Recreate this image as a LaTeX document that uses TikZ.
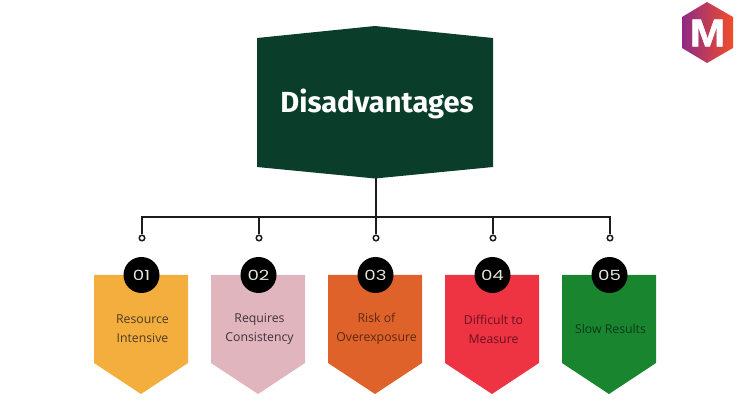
\documentclass[tikz,border=0pt]{standalone}
\usepackage{fontspec}
\setmainfont{Open Sans}
\newfontfamily\titlefont{Fira Sans}
\newfontfamily\numfont[FakeStretch=1.3]{Poppins}
\newfontfamily\logofont[BoldFont={Liberation Sans Bold},BoldFeatures={FakeStretch=1.1,FakeBold=1.5}]{Liberation Sans}
\definecolor{maingreen}{HTML}{0A3D2A}
\definecolor{cYel}{HTML}{F4AE3D}
\definecolor{cPink}{HTML}{E0B5BD}
\definecolor{cOra}{HTML}{DE622A}
\definecolor{cRed}{HTML}{EE3342}
\definecolor{cGrn}{HTML}{19852F}
\definecolor{linecol}{HTML}{1C1C1C}
\definecolor{numcol}{HTML}{E6E6D8}
\definecolor{logoL}{HTML}{8E2A86}
\definecolor{logoM}{HTML}{C8265A}
\definecolor{logoR}{HTML}{F04E2A}
\tikzset{
  x=0.75pt,y=-0.75pt,
  wire/.style={draw=linecol,line width=1.5pt},
  dotend/.style={circle,draw=linecol,fill=white,line width=1.1pt,inner sep=0pt,minimum size=4.2pt},
  badge/.style={circle,fill=black,inner sep=0pt,minimum size=27pt,text=numcol,font=\numfont\fontsize{10.5}{14}\selectfont},
  lab/.style={align=center,font=\fontsize{9.2}{14.2}\selectfont,inner sep=0pt},
  pen/.pic={\fill[fill=#1] (-47,0) -- (47,0) -- (47,88) -- (0,119) -- (-47,88) -- cycle;}
}
\begin{document}
\begin{tikzpicture}
\useasboundingbox (0,0) rectangle (750,420);
\fill[maingreen] (257,38) -- (375,26) -- (493,38) -- (493,167) -- (375,178.5) -- (257,167) -- cycle;
\node[text=white,font=\titlefont\fontsize{21.8}{26}\bfseries\selectfont,inner sep=0pt] (title) at (377,103.5) {Disadvantages};
\coordinate (mainbot) at (376,178);
\coordinate (bus) at (376,217);
\foreach \n/\x/\c/\t/\tc in {
 1/141/cYel/{Resource\\Intensive}/4A3A25,
 2/258/cPink/{Requires\\Consistency}/3F333A,
 3/375/cOra/{Risk of\\Overexposure}/5A2A10,
 4/492/cRed/{Difficult to\\Measure}/6A1020,
 5/609/cGrn/{Slow Results}/0A3A1A}{
  \pic at (\x,275) {pen=\c};
  \definecolor{tcol}{HTML}{\tc}
  \node[lab,text=tcol] (label\n) at (\x+1.5,329) {\t};
  \node[badge] (badge\n) at (\x+0.5,275) {0\n};
  \node[dotend] (dot\n) at (\x+1,238) {};
}
\draw[wire] (dot1.north) |- (bus) -| (dot5.north);
\draw[wire] (mainbot) -- (dot3.north);
\draw[wire] (dot2.north) -- (dot2.north |- bus);
\draw[wire] (dot4.north) -- (dot4.north |- bus);
\shade[left color=logoL,middle color=logoM,right color=logoR] (707,2) -- (733,17) -- (733,48) -- (707,63) -- (682,48) -- (682,17) -- cycle;
\node[text=white,font=\logofont\fontsize{29}{30}\bfseries\selectfont,inner sep=0pt] (logo) at (707.5,33) {M};
\end{tikzpicture}
\end{document}
